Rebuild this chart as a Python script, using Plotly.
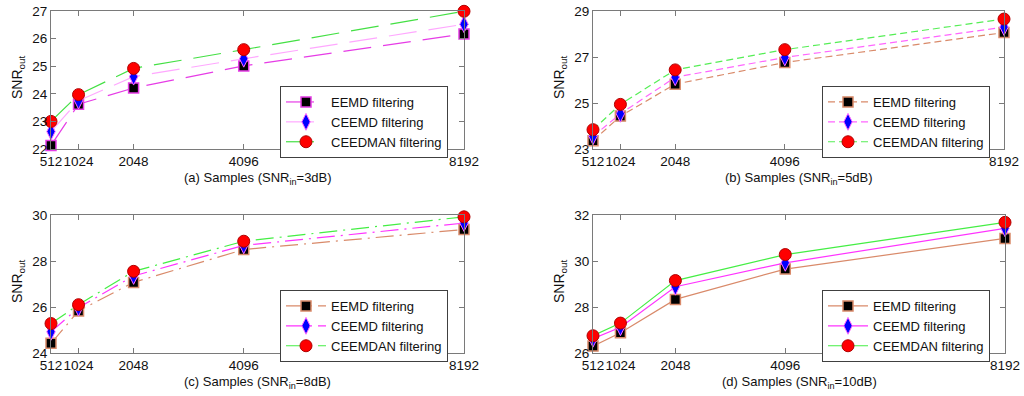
import plotly.graph_objects as go

samples = [512, 1024, 2048, 4096, 8192]

a_eemd = [22.13, 23.62, 24.21, 25.01, 26.17]
a_ceemd = [22.63, 23.75, 24.62, 25.27, 26.52]
a_ceemdan = [23.00, 23.97, 24.92, 25.60, 26.99]

b_eemd = [23.36, 24.43, 25.82, 26.76, 28.06]
b_ceemd = [23.55, 24.53, 26.12, 26.98, 28.30]
b_ceemdan = [23.84, 24.94, 26.44, 27.32, 28.65]

c_eemd = [24.42, 25.83, 27.07, 28.50, 29.37]
c_ceemd = [24.92, 25.97, 27.35, 28.68, 29.65]
c_ceemdan = [25.28, 26.10, 27.55, 28.86, 29.92]

d_eemd = [26.30, 26.88, 28.33, 29.65, 30.98]
d_ceemd = [26.62, 27.12, 28.88, 29.92, 31.42]
d_ceemdan = [26.75, 27.30, 29.15, 30.28, 31.68]

names_a = ["EEMD filtering", "CEEMD filtering", "CEEDMAN filtering"]
names_other = ["EEMD filtering", "CEEMD filtering", "CEEMDAN filtering"]
x_titles = ["(a) Samples (SNR<sub>in</sub>=3dB)", "(b) Samples (SNR<sub>in</sub>=5dB)",
            "(c) Samples (SNR<sub>in</sub>=8dB)", "(d) Samples (SNR<sub>in</sub>=10dB)"]

W, H = 1024, 396
FONT = "Arial, Liberation Sans, sans-serif"

# panel geometry in window pixels (left, right, top, bottom)
panels = [
    (51, 464, 11, 149),
    (593, 1004, 11, 149),
    (51, 464, 215, 353),
    (593, 1005, 215, 353),
]
yranges = [[22, 27], [23, 29], [24, 30], [26, 32]]
ydticks = [1, 2, 2, 2]

data = [
    (a_eemd, a_ceemd, a_ceemdan),
    (b_eemd, b_ceemd, b_ceemdan),
    (c_eemd, c_ceemd, c_ceemdan),
    (d_eemd, d_ceemd, d_ceemdan),
]
dashes = ["28px,12px", "7px,4px", "18px,6px,2px,6px", "solid"]
line_colors = [
    ["#e63ce6", "#ffa8ff", "#44e044"],
    ["#d98a6a", "#ff66ff", "#55ee55"],
    ["#d98a6a", "#ff33ff", "#44ee44"],
    ["#d98a6a", "#ff33ff", "#44ee44"],
]


def px(xw):
    return xw / W


def py(yw):
    return 1 - yw / H


fig = go.Figure()

for i in range(4):
    xa = "x" if i == 0 else f"x{i+1}"
    ya = "y" if i == 0 else f"y{i+1}"
    lg = "legend" if i == 0 else f"legend{i+1}"
    names = names_a if i == 0 else names_other
    e, c, n = data[i]
    cols = line_colors[i]
    sq_edge = cols[0]
    specs = [
        (e, names[0], dict(symbol="square", size=10, color="black", line=dict(color=sq_edge, width=1.5)), cols[0]),
        (c, names[1], dict(symbol="diamond-tall", size=12, color="#0000ff", line=dict(color="#ff66ff", width=1)), cols[1]),
        (n, names[2], dict(symbol="circle", size=12, color="#ff0000", line=dict(color="#b00000", width=1)), cols[2]),
    ]
    for vals, nm, mk, lc in specs:
        fig.add_trace(go.Scatter(
            x=samples, y=vals, name=nm, mode="lines+markers",
            line=dict(color=lc, width=1.2, dash=dashes[i]),
            marker=mk, xaxis=xa, yaxis=ya, legend=lg, cliponaxis=False,
        ))

layout = dict(
    template="none",
    width=W, height=H, margin=dict(l=0, r=0, t=0, b=0, autoexpand=False),
    paper_bgcolor="white", plot_bgcolor="white",
    font=dict(family=FONT, size=13, color="#111111"),
    showlegend=True, hovermode=False,
)

annotations = []
for i, (l, r, t, b) in enumerate(panels):
    sfx = "" if i == 0 else str(i + 1)
    xd = [px(l), px(r)]
    yd = [py(b), py(t)]
    axis_common = dict(
        showline=True, linecolor="#7a7a7a", linewidth=1, mirror="ticks",
        ticks="inside", ticklen=5, tickcolor="#7a7a7a", showgrid=False,
        zeroline=False, automargin=False, ticklabeloverflow="allow",
        tickfont=dict(family=FONT, size=13.5, color="#111111"),
    )
    layout["xaxis" + sfx] = dict(
        axis_common, domain=xd, range=[512, 8192], tickmode="array",
        tickvals=samples, ticktext=[str(s) for s in samples], tickangle=0,
        anchor="y" + sfx,
    )
    layout["yaxis" + sfx] = dict(
        axis_common, domain=yd, range=yranges[i], dtick=ydticks[i],
        tick0=yranges[i][0], anchor="x" + sfx,
    )
    lg = "legend" if i == 0 else f"legend{i+1}"
    layout[lg] = dict(
        x=px(l + 229), y=py(t + 75), xanchor="left", yanchor="top",
        bgcolor="white", bordercolor="#404040", borderwidth=1,
        font=dict(family=FONT, size=13, color="#111111"),
        tracegroupgap=0, itemwidth=40,
    )
    annotations.append(dict(
        text=x_titles[i], x=px((l + r) / 2), y=py(b + 29),
        xref="paper", yref="paper", xanchor="center", yanchor="middle",
        showarrow=False, font=dict(family=FONT, size=13, color="#111111"),
    ))
    annotations.append(dict(
        text="SNR<sub>out</sub>", x=px(l - 33), y=py((t + b) / 2 - 2),
        xref="paper", yref="paper", xanchor="center", yanchor="middle",
        textangle=-90, showarrow=False,
        font=dict(family=FONT, size=14, color="#111111"),
    ))

layout["annotations"] = annotations
fig.update_layout(**layout)
# place the figure at the window's top-left corner (no default page margin)
fig.write_html(
    "out.html",
    config={"displayModeBar": False, "staticPlot": True},
    post_script="document.body.style.margin='0px';",
)
